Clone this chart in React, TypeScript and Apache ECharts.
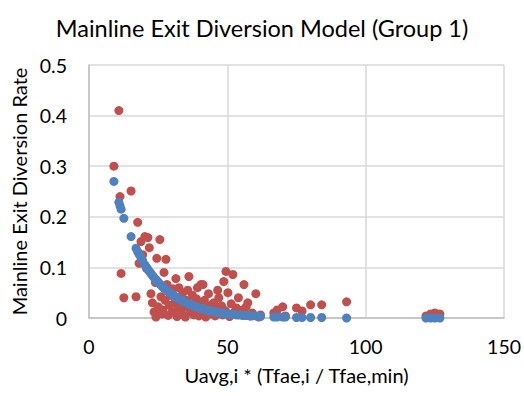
import React, { useEffect, useRef } from "react";
import * as echarts from "echarts";

const titleText = "Mainline Exit Diversion Model (Group 1)";
const xAxisName = "Uavg,i * (Tfae,i / Tfae,min)";
const yAxisName = "Mainline Exit Diversion Rate";

const xValues = [
  9.0, 10.8, 11.2, 11.6, 12.6, 15.2, 17.0, 17.6, 18.1, 18.8, 19.4, 20.2, 20.8, 21.3, 21.8, 22.4, 22.9, 23.5, 24.0, 24.2,
  24.5, 25.0, 25.6, 26.0, 26.4, 26.7, 27.1, 27.5, 27.8, 28.2, 28.6, 29.0, 29.5, 30.0, 30.4, 30.9, 31.4, 31.8, 32.1, 32.5,
  33.0, 33.4, 33.9, 34.3, 34.8, 35.2, 35.7, 36.1, 36.5, 37.0, 37.4, 37.9, 38.3, 38.8, 39.2, 39.7, 40.1, 40.4, 41.0, 41.2,
  41.7, 42.2, 42.7, 43.2, 43.7, 44.2, 44.6, 45.1, 45.6, 46.1, 46.5, 46.9, 47.4, 47.9, 48.3, 48.7, 49.2, 49.5, 50.2, 50.8,
  51.4, 52.0, 52.6, 53.3, 54.0, 54.8, 55.5, 56.0, 56.8, 57.4, 58.2, 59.0, 60.3, 61.4, 62.0, 66.8, 68.0, 70.0, 71.0, 75.0,
  77.0, 80.1, 84.1, 93.1, 121.8, 123.5, 125.0, 126.8,
];

const observedRate = [
  0.300, 0.410, 0.240, 0.088, 0.040, 0.251, 0.042, 0.189, 0.108, 0.151, 0.125, 0.161, 0.098, 0.159, 0.139, 0.048, 0.030, 0.012, 0.070, 0.002,
  0.118, 0.022, 0.155, 0.042, 0.008, 0.016, 0.090, 0.035, 0.116, 0.066, 0.005, 0.025, 0.045, 0.012, 0.058, 0.030, 0.078, 0.003, 0.020, 0.060,
  0.040, 0.010, 0.050, 0.022, 0.002, 0.035, 0.055, 0.082, 0.012, 0.028, 0.045, 0.006, 0.018, 0.038, 0.060, 0.004, 0.025, 0.066, 0.012, 0.066,
  0.035, 0.002, 0.020, 0.048, 0.008, 0.026, 0.014, 0.030, 0.004, 0.018, 0.055, 0.040, 0.010, 0.024, 0.006, 0.072, 0.015, 0.092, 0.050, 0.003,
  0.028, 0.086, 0.012, 0.020, 0.040, 0.008, 0.016, 0.066, 0.022, 0.030, 0.004, 0.010, 0.048, 0.002, 0.006, 0.010, 0.016, 0.022, 0.004, 0.020,
  0.014, 0.026, 0.026, 0.032, 0.004, 0.008, 0.010, 0.008,
];

const modelRate = [
  0.270, 0.229, 0.222, 0.215, 0.197, 0.161, 0.138, 0.131, 0.126, 0.119, 0.113, 0.105, 0.100, 0.096, 0.092, 0.088, 0.084, 0.080, 0.077, 0.076,
  0.074, 0.071, 0.067, 0.065, 0.063, 0.061, 0.059, 0.058, 0.056, 0.054, 0.052, 0.051, 0.049, 0.047, 0.045, 0.043, 0.042, 0.040, 0.039, 0.038,
  0.036, 0.035, 0.034, 0.033, 0.031, 0.030, 0.029, 0.028, 0.027, 0.026, 0.025, 0.024, 0.023, 0.022, 0.021, 0.020, 0.019, 0.019, 0.018, 0.018,
  0.017, 0.016, 0.016, 0.015, 0.014, 0.014, 0.013, 0.013, 0.012, 0.012, 0.011, 0.011, 0.010, 0.010, 0.010, 0.009, 0.009, 0.009, 0.008, 0.008,
  0.007, 0.007, 0.007, 0.006, 0.006, 0.006, 0.005, 0.005, 0.005, 0.005, 0.004, 0.004, 0.004, 0.003, 0.003, 0.002, 0.002, 0.002, 0.002, 0.001,
  0.001, 0.001, 0.001, 0.000, 0.000, 0.000, 0.000, 0.000,
];

const FONT = "Lato, 'Open Sans', sans-serif";

export default function App() {
  const ref = useRef<HTMLDivElement>(null);
  useEffect(() => {
    if (!ref.current) return;
    const chart = echarts.init(ref.current, null, { renderer: "svg" });
    const observed = xValues.map((x, i) => [x, observedRate[i]]);
    const model = xValues.map((x, i) => [x, modelRate[i]]);
    chart.setOption({
      animation: false,
      backgroundColor: "#ffffff",
      title: {
        text: titleText,
        left: "center",
        top: 11,
        textStyle: { fontFamily: FONT, fontSize: 23.5, fontWeight: "normal", color: "#000" },
      },
      grid: { left: 89, right: 19, top: 65, bottom: 78 },
      xAxis: {
        type: "value",
        min: 0,
        max: 150,
        interval: 50,
        name: xAxisName,
        nameLocation: "middle",
        nameGap: 47,
        nameTextStyle: { fontFamily: FONT, fontSize: 20, color: "#000" },
        axisLine: { show: true, lineStyle: { color: "#bfbfbf", width: 1.5 } },
        axisTick: { show: false },
        axisLabel: { fontFamily: FONT, fontSize: 19.5, color: "#000", margin: 18 },
        splitLine: { show: true, lineStyle: { color: "#d9d9d9", width: 1.5 } },
      },
      yAxis: {
        type: "value",
        min: 0,
        max: 0.5,
        interval: 0.1,
        name: yAxisName,
        nameLocation: "middle",
        nameGap: 60,
        nameTextStyle: { fontFamily: FONT, fontSize: 20, color: "#000" },
        axisLine: { show: true, lineStyle: { color: "#bfbfbf", width: 1.5 } },
        axisTick: { show: false },
        axisLabel: { fontFamily: FONT, fontSize: 19.5, color: "#000", margin: 22 },
        splitLine: { show: true, lineStyle: { color: "#d9d9d9", width: 1.5 } },
      },
      series: [
        {
          type: "scatter",
          name: "Observed",
          data: observed,
          symbolSize: 9,
          itemStyle: { color: "#C0504D", opacity: 1 },
        },
        {
          type: "scatter",
          name: "Model",
          data: model,
          symbolSize: 9,
          itemStyle: { color: "#4F81BD", opacity: 1 },
        },
      ],
    });
    return () => chart.dispose();
  }, []);
  return (
    <div
      ref={ref}
      style={{ position: "absolute", left: 0, top: 0, width: 524, height: 396 }}
    />
  );
}
